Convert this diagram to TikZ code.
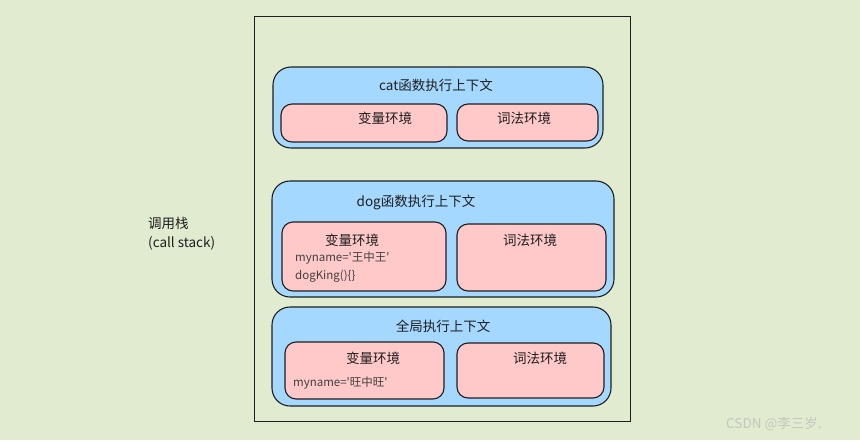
\documentclass[tikz,border=0pt]{standalone}
\usepackage{fontspec}
\usepackage{xcolor}
\setmainfont{Noto Sans CJK SC}
\newfontfamily\codefont[Ligatures=TeXOff]{Noto Sans CJK SC}
\definecolor{bggreen}{HTML}{E1EBCF}
\definecolor{ctxblue}{HTML}{A5D8FF}
\definecolor{envpink}{HTML}{FFC9C9}
\definecolor{inkdark}{HTML}{1E1E1E}
\definecolor{markgray}{HTML}{C4C8BC}
\tikzset{
  ctx/.style={draw=inkdark, line width=1.1pt, fill=ctxblue, rounded corners=18pt},
  env/.style={draw=inkdark, line width=1.1pt, fill=envpink, rounded corners=11pt},
  lbl/.style={font=\fontsize{13.5}{16}\selectfont, text=inkdark, inner sep=0pt},
  code/.style={font=\codefont\fontsize{11.5}{13}\selectfont, text=inkdark!85, inner sep=0pt, anchor=west},
}

\begin{document}
\begin{tikzpicture}[x=1pt,y=-1pt]
\useasboundingbox[fill=bggreen] (0,0) rectangle (860,440);

\draw [line width=1pt, draw=inkdark] (254,16) rectangle (630,421);
\node (S1) at (148,223) [lbl, anchor=west] {调用栈};
\node (S2) at (148,243) [lbl, anchor=west] {(call stack)};

% cat
\draw [ctx] (273,67) rectangle (603,148);
\node (C0) at (436,85) [lbl] {cat函数执行上下文};
\draw [env] (281,104) rectangle (447,142);
\draw [env] (457,104) rectangle (598,141);
\node (C1) at (385,118) [lbl] {变量环境};
\node (C2) at (524,118) [lbl] {词法环境};

% dog
\draw [ctx] (272,181) rectangle (614,297);
\node (D0) at (416,202) [lbl] {dog函数执行上下文};
\draw [env] (282,222) rectangle (446,291);
\draw [env] (457,224) rectangle (606,291);
\node (D1) at (352,240) [lbl] {变量环境};
\node (D2) at (530,240) [lbl] {词法环境};
\node (D3) at (295,258) [code] {myname='王中王'};
\node (D4) at (295,276) [code] {dogKing()\{\}};

% global
\draw [ctx] (272,307) rectangle (611,406);
\node (G0) at (443,326) [lbl] {全局执行上下文};
\draw [env] (285,342) rectangle (444,399);
\draw [env] (457,343) rectangle (604,398);
\node (G1) at (373,358) [lbl] {变量环境};
\node (G2) at (540,358) [lbl] {词法环境};
\node (G3) at (293,383) [code] {myname='旺中旺'};

\node (W) at (726,424) [anchor=west, font=\fontsize{13.5}{15}\selectfont, text=markgray, inner sep=0pt] {CSDN @李三岁.};
\end{tikzpicture}
\end{document}
